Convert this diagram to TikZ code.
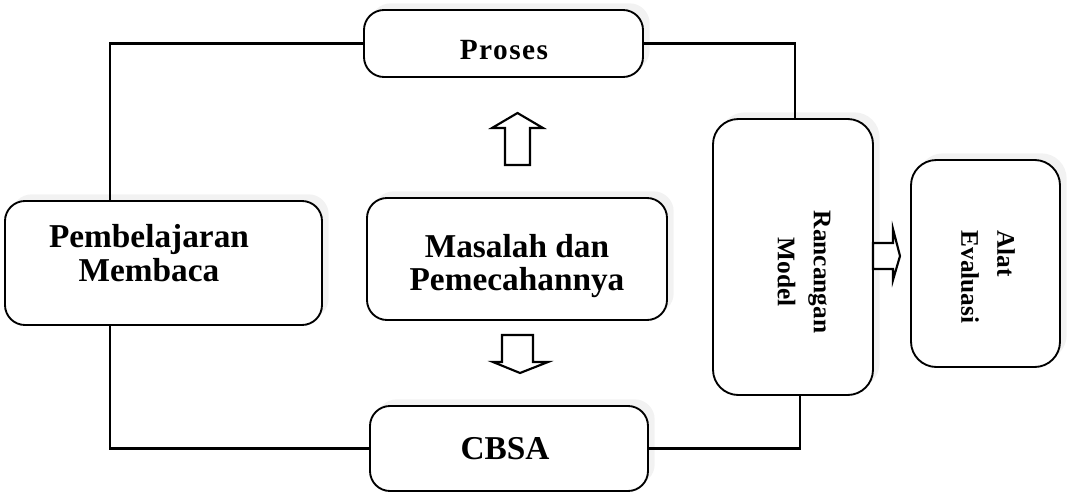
\documentclass[tikz,border=0pt]{standalone}
\usepackage{fontspec}
\setmainfont{Liberation Serif}
\usetikzlibrary{calc,shadows}
\begin{document}
\begin{tikzpicture}[x=0.75pt,y=-0.75pt,
  box/.style={draw=black, line width=1.4pt, rounded corners=15pt, fill=white,
    general shadow={fill=gray!10, shadow xshift=5pt, shadow yshift=5pt}, inner sep=0pt},
  bigbox/.style={box, rounded corners=19pt},
  lbl/.style={font=\bfseries\fontsize{25}{25}\selectfont, align=center, inner sep=0pt},
  vlbl/.style={font=\bfseries\fontsize{19}{27}\selectfont, rotate=-90, inner sep=0pt},
  conn/.style={line width=1.8pt},
  blockarrow/.style={draw=black, line width=1.6pt, fill=white, line join=miter}
]
\useasboundingbox (0,0) rectangle (1073,493);

% boxes
\node[box, minimum width=209.25pt, minimum height=50.25pt] (proses) at (503.5,43.5) {};
\node[box, minimum width=237.75pt, minimum height=93pt] (pemb) at (163.5,263) {};
\node[box, minimum width=225pt, minimum height=91.5pt] (masalah) at (517,259) {};
\node[box, minimum width=208.5pt, minimum height=63.75pt] (cbsa) at (509,448.5) {};
\node[bigbox, minimum width=120pt, minimum height=207pt] (ranc) at (793,257) {};
\node[bigbox, minimum width=111.75pt, minimum height=155.25pt] (alat) at (985.5,263.5) {};

% labels
\node[inner sep=0pt, font=\bfseries\fontsize{22}{22}\selectfont\addfontfeatures{LetterSpace=5}] (prosesT) at (504,50) {Proses};
\node[lbl] (pembT) at (149,253) {Pembelajaran\\Membaca};
\node[lbl] (masT) at (517,266) {Masalah dan\\Pemecahannya};
\node[lbl] (cbsaT) at (505,449) {CBSA};
\node[vlbl, align=center] (rancT) at (804,272) {Rancangan\\Model};
\node[vlbl, align=left] (alatT) at (988,277) {Alat\\Evaluasi};

% connectors
\draw[conn] ($(pemb.north west)!0.333!(pemb.north east)$) |- (proses.west);
\draw[conn] ($(pemb.south west)!0.333!(pemb.south east)$) |- (cbsa.west);
\draw[conn] (proses.east) -| ($(ranc.north)+(2,0)$);
\draw[conn] (cbsa.east) -| ($(ranc.south)+(7,0)$);

% block arrows
\draw[blockarrow] (505,165) -- (505,128) -- (492,128) -- (517.5,113) -- (543,128) -- (530,128) -- (530,165) -- cycle;
\draw[blockarrow] (502,335) -- (533,335) -- (533,362) -- (548,362) -- (520,373) -- (493,362) -- (502,362) -- cycle;
\draw[blockarrow] (873,243) -- (893,243) -- (893,229) -- (900,256) -- (893,280) -- (893,269) -- (873,269) -- cycle;
\end{tikzpicture}
\end{document}
